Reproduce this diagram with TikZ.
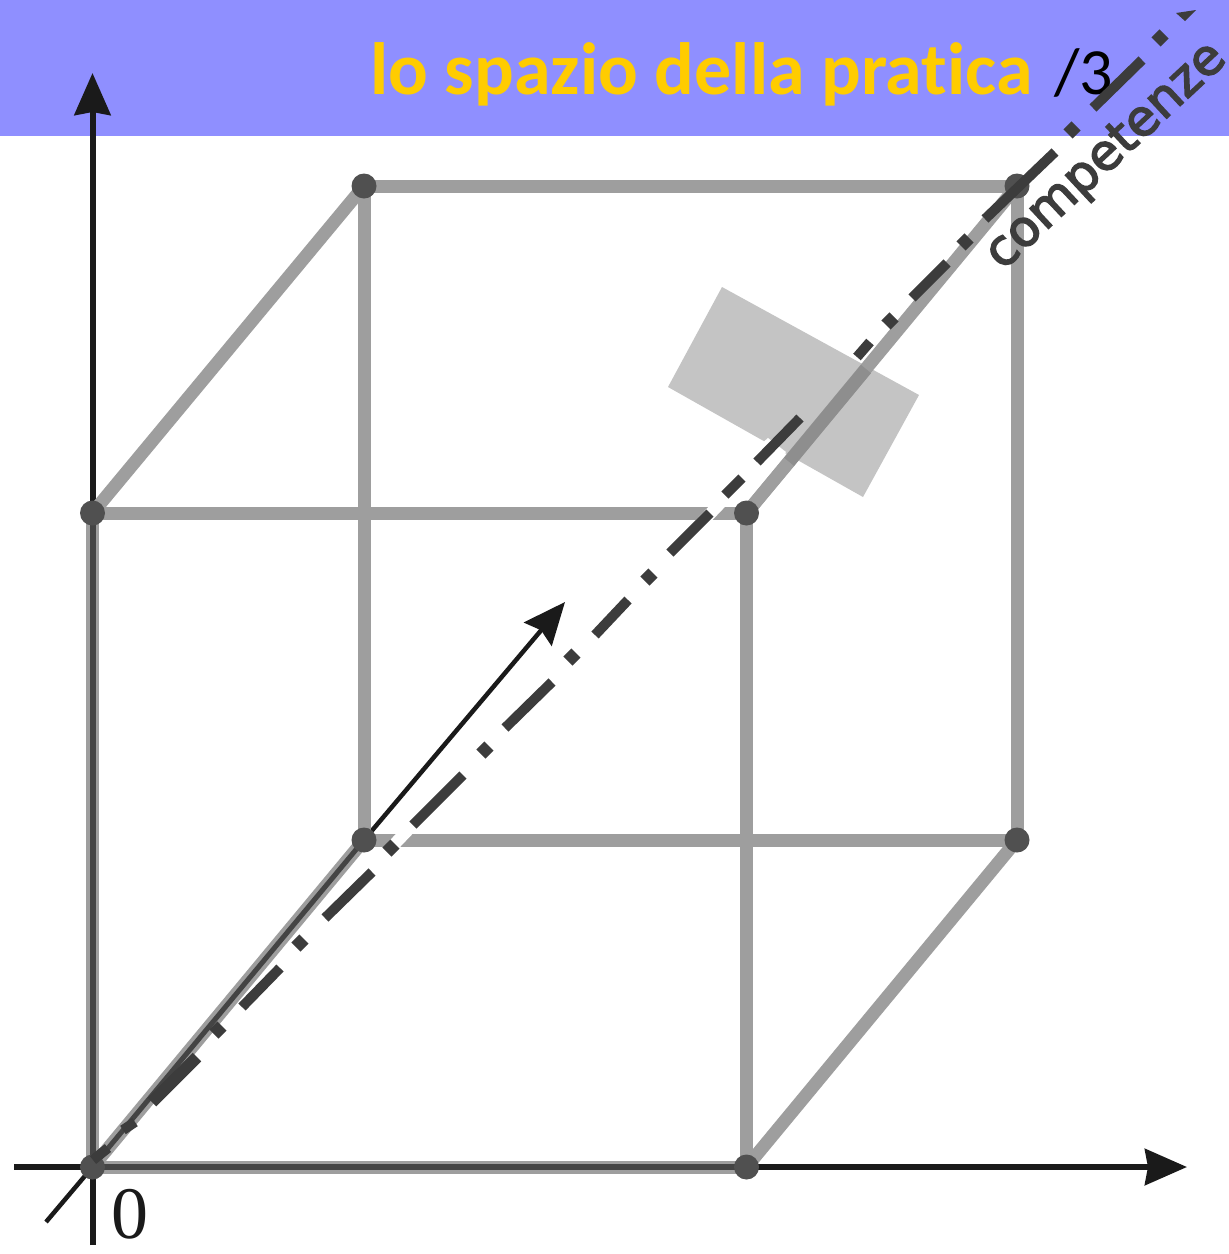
\documentclass[tikz,border=0pt]{standalone}
\usepackage{fontspec}
\setmainfont{Carlito}
\newfontfamily\compfont[FakeBold=3]{DejaVu Sans}
\newfontfamily\zerofont{Liberation Serif}
\usetikzlibrary{arrows.meta}
\definecolor{headerblue}{HTML}{8F8FFF}
\definecolor{titleyellow}{HTML}{FFCC00}
\definecolor{edgegrey}{HTML}{9E9E9E}
\definecolor{edgeover}{HTML}{8E8E8E}
\definecolor{vertexgrey}{HTML}{505050}
\definecolor{coredark}{HTML}{444444}
\definecolor{axisblack}{HTML}{1A1A1A}
\definecolor{dashdark}{HTML}{3C3C3C}
\definecolor{planegrey}{HTML}{C4C4C4}
\tikzset{
  cubeedge/.style={draw=edgegrey,line width=13pt},
  coreline/.style={draw=coredark,line width=6pt},
  axisline/.style={draw=axisblack,line width=6pt},
  axisarrow/.style={axisline,-{Stealth[length=42pt,width=36pt,inset=3pt]}},
  thinarrow/.style={draw=axisblack,line width=4.5pt,-{Stealth[length=42pt,width=36pt,inset=5pt]}},
  vertexdot/.style={circle,fill=vertexgrey,minimum size=25pt,inner sep=0pt},
  dashseg/.style={draw=dashdark,line width=10pt},
  dotseg/.style={draw=dashdark,line width=13pt},
  halo/.style={draw=white,line width=12pt},
  titletext/.style={inner sep=0pt,text=titleyellow,font=\fontsize{74}{84}\selectfont\bfseries},
}
\begin{document}
\begin{tikzpicture}[x=1pt,y=-1pt]
\useasboundingbox (0,0) rectangle (1229,1254);
\fill[white] (0,0) rectangle (1229,1254);
\fill[headerblue] (0,0) rectangle (1229,136);
\node[titletext,anchor=base west] (title) at (370,94) {lo spazio della prat\kern0pt ica};
\node[inner sep=0pt,anchor=base west,text=black,font=\fontsize{66}{80}\selectfont] (page) at (1054,94) {/3};
% positions
\coordinate (O) at (92.5,1167);
\coordinate (X) at (746.5,1167);
\coordinate (Y) at (92.5,513);
\coordinate (XY) at (746.5,513);
\coordinate (Z) at (364,840);
\coordinate (XZ) at (1017,840);
\coordinate (YZ) at (364,186);
\coordinate (XYZ) at (1017,186);
\coordinate (xend) at (1187,1167);
\coordinate (xstart) at (14,1167);
\coordinate (yend) at (92.5,73);
\coordinate (ystart) at (92.5,1245);
\coordinate (zstart) at (46,1222);
\coordinate (zend) at (565,602);
% axes
\draw[axisarrow] (xstart) -- (xend);
\draw[axisarrow] (ystart) -- (yend);
\draw[draw=axisblack,line width=4.5pt] (zstart) -- (O);
\draw[thinarrow] (Z) -- (zend);
% cube
\draw[cubeedge] (YZ) -- (XYZ);
\draw[cubeedge] (YZ) -- (Z);
\draw[cubeedge] (XYZ) -- (XZ);
\draw[cubeedge] (Z) -- (XZ);
\draw[cubeedge] (Y) -- (YZ);
\draw[cubeedge] (X) -- (XZ);
\draw[cubeedge] (Y) -- (XY);
\draw[cubeedge] (XY) -- (X);
\draw[cubeedge] (O) -- (X);
\draw[cubeedge] (O) -- (Y);
\draw[cubeedge] (O) -- (Z);
\draw[coreline] (O) -- (X);
\draw[coreline] (O) -- (Y);
\draw[coreline,line width=5pt] (O) -- (Z);
% white halo and plane
\draw[halo] (300,943) -- (772,449);
\fill[planegrey] (722,287) -- (919,395) -- (863,497) -- (668,387) -- cycle;
\draw[halo] (868,343) -- (885,326);
\draw[cubeedge] (XY) -- (XYZ);
\draw[draw=edgeover,line width=13pt] (789,462) -- (866,369);
\path[fill=white] (752,452) -- (768,438) -- (786,452) -- (772,468) -- cycle;
\draw[cubeedge] (XY) -- (789,462);
% vertices
\foreach \p in {O,X,Y,XY,Z,XZ,YZ,XYZ} \node[vertexdot] (v\p) at (\p) {};
% dash-dot line
\draw[dashseg] (93,1160) -- (108,1148);
\draw[dashseg] (123,1130) -- (135,1122);
\draw[dashseg,line width=12pt] (152,1102) -- (197,1057);
\draw[dotseg] (214,1034) -- (222,1026);
\draw[dashseg] (242,1007) -- (280,968);
\draw[dotseg] (296,947) -- (304,939);
\draw[dashseg] (325,918) -- (372,872);
\draw[dotseg] (387,852) -- (395,844);
\draw[dashseg] (413,825) -- (463,775);
\draw[dotseg] (481,754) -- (489,746);
\draw[dashseg] (505,728) -- (552,682);
\draw[dotseg] (568,661) -- (576,653);
\draw[dashseg] (595,635) -- (628,600);
\draw[dotseg] (645,581) -- (653,573);
\draw[dashseg] (670,553) -- (710,513);
\draw[dashseg] (725,495) -- (742,478);
\draw[dashseg] (757,462) -- (800,418);
\draw[dashseg] (857,357) -- (870,342);
\draw[dotseg] (886,325) -- (894,317);
\draw[dashseg] (912,298) -- (947,263);
\draw[dotseg] (961,246) -- (969,238);
\draw[dashseg] (985,219) -- (1055,152);
\draw[dotseg] (1068,134) -- (1076,126);
\draw[dashseg] (1093,108) -- (1142,60);
\draw[dotseg] (1156,42) -- (1164,34);
\fill[dashdark] (1176,13) -- (1196,10) -- (1185,21) -- cycle;
% labels
\node[inner sep=0pt,rotate=43,text=dashdark,font={\compfont\fontsize{50}{60}\selectfont}] (comp) at (1107,157) {competenze};
\node[inner sep=0pt,anchor=base,text=axisblack,font=\zerofont\fontsize{74}{80}\selectfont] (zero) at (130,1238) {0};
\end{tikzpicture}
\end{document}
